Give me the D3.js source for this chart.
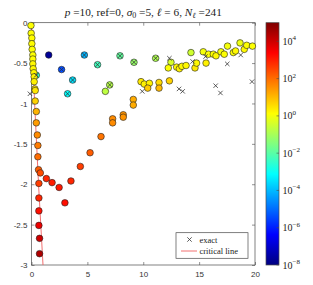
<!DOCTYPE html>
<html>
<head>
<meta charset="utf-8">
<script src="https://cdn.jsdelivr.net/npm/d3@7"></script>
<style>
body { margin: 0; background: #fff; }
svg { display: block; }
</style>
</head>
<body>
<svg width="313" height="285"></svg>
<script>
// computed poles: real part, imaginary part, log10 of the colour value
// isolated ones first (they sit under the left column)
const poleRe = [
    1.54, 2.69, 0.43, 3.68, 3.23, 4.73, 5.91, 7.00, 6.61, 7.92, 9.17, 11.11,
    -0.05, -0.03, 0.03, 0.03, 0.06, 0.12, 0.12, 0.12, 0.15, 0.21, 0.24, 0.24,
    0.30, 0.33, 0.33, 0.43, 0.43, 0.52, 0.57, 0.57, 0.63, 0.79, 0.66, 0.66,
    0.66, 0.66, 0.72, 0.72,
    1.33, 1.84, 2.47, 2.99, 3.53, 4.37, 5.24, 6.22, 7.26, 7.26, 8.21, 8.21,
    9.11, 9.11, 9.80, 10.09, 10.55, 10.40, 11.41, 11.41, 12.34,
    12.48, 12.24, 12.99, 13.23, 13.46, 13.83, 14.27, 14.63, 14.77, 15.37,
    15.62, 15.84, 16.27, 16.51, 16.95, 17.25, 17.54, 18.06, 18.26, 18.66,
    19.04, 19.26, 19.77
]
const poleIm = [
    -0.40, -0.58, -0.65, -0.71, -0.88, -0.40, -0.52, -0.77, -0.85, -0.41, -0.49, -0.44,
    -0.035, -0.13, -0.19, -0.26, -0.33, -0.40, -0.45, -0.51, -0.57, -0.62, -0.67, -0.73,
    -0.82, -0.84, -0.97, -1.10, -1.24, -1.39, -1.52, -1.66, -1.82, -1.86, -1.99, -2.17,
    -2.33, -2.51, -2.67, -2.86,
    -1.93, -1.98, -2.04, -2.23, -1.96, -1.78, -1.61, -1.41, -1.19, -1.24, -1.14, -1.17,
    -0.95, -1.02, -0.73, -0.76, -0.75, -0.81, -0.74, -0.81, -0.72,
    -0.49, -0.56, -0.55, -0.57, -0.54, -0.53, -0.37, -0.56, -0.50, -0.36,
    -0.50, -0.39, -0.39, -0.41, -0.36, -0.39, -0.29, -0.37, -0.35, -0.25,
    -0.33, -0.28, -0.29
]
const poleLog = [
    -7.7, -5.4, -2.5, -3.5, -3.1, -4.1, -2.3, -0.8, -0.7, -1.9, -1.2, -0.9,
    0.1, 0.1, 0.15, 0.15, 0.1, 0.1, 0.15, 0.2, 0.2, 0.25, 0.25, 0.3,
    0.4, 0.45, 0.7, 1.1, 1.4, 1.6, 1.8, 2.0, 2.2, 2.4, 2.6, 2.9,
    3.2, 3.6, 4.0, 4.4,
    2.9, 3.0, 3.1, 3.2, 2.9, 2.6, 2.2, 1.9, 1.6, 1.6, 1.5, 1.5,
    1.2, 1.2, 0.4, 0.3, 0.3, 0.8, 0.6, 1.0, 0.7,
    -0.4, 0.1, 0.2, 0.3, 0.2, 0.2, -0.5, 0.4, 0.2, 0.0,
    0.3, 0.1, 0.1, 0.2, 0.0, 0.1, 0.0, 0.1, 0.2, -0.1,
    0.2, 0.1, 0.1
]

// exact poles
const exactRe = [-0.14, 0.43, 2.69, 3.68, 3.23, 4.73, 5.91, 7.00, 7.92, 9.17, 11.11,
    12.34, 9.91, 13.20, 13.53, 14.42, 15.57, 16.48, 16.91, 17.52, 18.72, 19.73]
const exactIm = [-0.88, -0.65, -0.58, -0.71, -0.88, -0.40, -0.52, -0.77, -0.41, -0.49, -0.44,
    -0.44, -0.85, -0.82, -0.85, -0.48, -0.42, -0.78, -0.87, -0.51, -0.40, -0.73]

// critical line
const criticalRe = [0, 0.28, 0.63, 1.03]
const criticalIm = [0, -1, -2, -3]

const xTicks = [0, 5, 10, 15, 20]
const yTicks = [0, -0.5, -1, -1.5, -2, -2.5, -3]
const cbTicks = [4, 2, 0, -2, -4, -6, -8]
const cbRange = [-8, 5]

const svg = d3.select('svg')
const serif = '"Liberation Serif", "DejaVu Serif", serif'
const sans = '"Liberation Sans", Arial, sans-serif'
const frame = '#4a4a4a'

const x = d3.scaleLinear().domain([0, 20]).range([31.5, 255])
const y = d3.scaleLinear().domain([-3, 0]).range([265, 22.7])

// matlab jet
const clamp = v => Math.max(0, Math.min(1, v))
const jet = t => d3.rgb(
    255 * clamp(1.5 - Math.abs(4 * t - 3)),
    255 * clamp(1.5 - Math.abs(4 * t - 2)),
    255 * clamp(1.5 - Math.abs(4 * t - 1))
).formatHex()
const color = v => jet((v - cbRange[0]) / (cbRange[1] - cbRange[0]))

// axes, ticks pointing inward
const gx = svg.append('g').attr('transform', `translate(0,${y(-3)})`)
    .call(d3.axisBottom(x).tickValues(xTicks).tickSizeInner(-3).tickSizeOuter(0).tickPadding(6).tickFormat(d => String(d)))
const gxt = svg.append('g').attr('transform', `translate(0,${y(0)})`)
    .call(d3.axisTop(x).tickValues(xTicks).tickSizeInner(-3).tickSizeOuter(0).tickFormat(''))
const gy = svg.append('g').attr('transform', `translate(${x(0)},0)`)
    .call(d3.axisLeft(y).tickValues(yTicks).tickSizeInner(-3).tickSizeOuter(0).tickPadding(4).tickFormat(d => String(d)))
const gyr = svg.append('g').attr('transform', `translate(${x(20)},0)`)
    .call(d3.axisRight(y).tickValues(yTicks).tickSizeInner(-3).tickSizeOuter(0).tickFormat(''))

;[gx, gxt, gy, gyr].forEach(g => {
    g.select('.domain').remove()
    g.selectAll('line').attr('stroke', frame).attr('stroke-width', 0.6)
    g.selectAll('text').attr('font-family', sans).attr('font-size', 8).attr('fill', '#333')
})

svg.append('rect')
    .attr('x', x(0)).attr('y', y(0))
    .attr('width', x(20) - x(0)).attr('height', y(-3) - y(0))
    .attr('fill', 'none').attr('stroke', frame).attr('stroke-width', 0.7)

// critical line
const critical = criticalRe.map((re, i) => [re, criticalIm[i]])
svg.append('path')
    .attr('d', d3.line().x(d => x(d[0])).y(d => y(d[1]))(critical))
    .attr('fill', 'none').attr('stroke', '#f06060').attr('stroke-width', 0.9)

// computed poles
const poles = poleRe.map((re, i) => ({ re, im: poleIm[i], v: poleLog[i] }))
svg.append('g').selectAll('circle').data(poles).enter().append('circle')
    .attr('cx', d => x(d.re))
    .attr('cy', d => y(d.im))
    .attr('r', 3.3)
    .attr('fill', d => color(d.v))
    .attr('stroke', '#222')
    .attr('stroke-width', 0.6)

// exact poles as crosses
const cross = (g, cx, cy, s) => g.append('path')
    .attr('d', `M${cx - s},${cy - s}L${cx + s},${cy + s}M${cx - s},${cy + s}L${cx + s},${cy - s}`)
    .attr('stroke', '#333').attr('stroke-width', 0.8).attr('fill', 'none')

const exactGroup = svg.append('g')
exactRe.forEach((re, i) => cross(exactGroup, x(re), y(exactIm[i]), 2.2))

// title
const title = svg.append('text')
    .attr('x', (x(0) + x(20)) / 2).attr('y', 16)
    .attr('text-anchor', 'middle')
    .attr('font-family', serif).attr('font-size', 11.3).attr('fill', '#222')
title.append('tspan').attr('font-style', 'italic').text('p')
title.append('tspan').text(' =10, ref=0, ')
title.append('tspan').attr('font-style', 'italic').text('σ')
title.append('tspan').attr('font-size', 8).attr('dy', 2).text('0')
title.append('tspan').attr('dy', -2).text(' =5, ')
title.append('tspan').attr('font-style', 'italic').text('ℓ')
title.append('tspan').text(' = 6, ')
title.append('tspan').attr('font-style', 'italic').text('N')
title.append('tspan').attr('font-size', 8).attr('font-style', 'italic').attr('dy', 2).text('ℓ')
title.append('tspan').attr('dy', -2).text(' =241')

// legend
const lg = svg.append('g')
lg.append('rect').attr('x', 176).attr('y', 232.7).attr('width', 72).attr('height', 25.6)
    .attr('fill', '#fff').attr('stroke', frame).attr('stroke-width', 0.7)
cross(lg, 189.5, 239.5, 2.2)
lg.append('line').attr('x1', 181).attr('x2', 197).attr('y1', 251).attr('y2', 251)
    .attr('stroke', '#f06060').attr('stroke-width', 0.9)
lg.selectAll('text.item').data(['exact', 'critical line']).enter().append('text')
    .attr('x', 199.5).attr('y', (d, i) => 242.5 + i * 11.5)
    .attr('font-family', serif).attr('font-size', 8.5).attr('fill', '#222')
    .text(d => d)

// colorbar
const cb = d3.scaleLinear().domain(cbRange).range([265, 22.7])
const cbX = 266, cbW = 13
const grad = svg.append('defs').append('linearGradient')
    .attr('id', 'jet').attr('x1', 0).attr('x2', 0).attr('y1', 1).attr('y2', 0)
grad.selectAll('stop').data(d3.range(0, 1.0001, 1 / 64)).enter().append('stop')
    .attr('offset', d => d)
    .attr('stop-color', d => jet(d))
svg.append('rect').attr('x', cbX).attr('y', cb(cbRange[1]))
    .attr('width', cbW).attr('height', cb(cbRange[0]) - cb(cbRange[1]))
    .attr('fill', 'url(#jet)').attr('stroke', frame).attr('stroke-width', 0.7)

const cbAxis = svg.append('g')
cbTicks.forEach(t => {
    const ty = cb(t)
    cbAxis.append('line').attr('x1', cbX + cbW - 2.5).attr('x2', cbX + cbW)
        .attr('y1', ty).attr('y2', ty).attr('stroke', frame).attr('stroke-width', 0.6)
    const lbl = cbAxis.append('text').attr('x', 282.5).attr('y', ty + 3.5)
        .attr('font-family', serif).attr('font-size', 10).attr('fill', '#222')
    lbl.append('tspan').text('10')
    lbl.append('tspan').attr('font-size', 7).attr('dy', -4.5).text(t < 0 ? '−' + (-t) : String(t))
})
</script>
</body>
</html>
